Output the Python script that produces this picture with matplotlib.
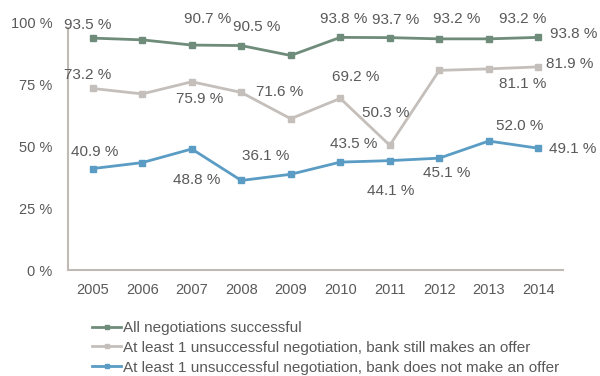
import matplotlib.pyplot as plt

plt.rcParams['font.family'] = ['Liberation Sans', 'DejaVu Sans']

years = ['2005', '2006', '2007', '2008', '2009', '2010', '2011', '2012', '2013', '2014']
all_success = [93.5, 92.8, 90.7, 90.5, 86.5, 93.8, 93.7, 93.2, 93.2, 93.8]
offer_still = [73.2, 71.0, 75.9, 71.6, 61.0, 69.2, 50.3, 80.5, 81.1, 81.9]
no_offer = [40.9, 43.3, 48.8, 36.1, 38.6, 43.5, 44.1, 45.1, 52.0, 49.1]

names = ['All negotiations successful',
         'At least 1 unsuccessful negotiation, bank still makes an offer',
         'At least 1 unsuccessful negotiation, bank does not make an offer']
colors = ['#6f8c7b', '#c4bfba', '#5a9cc4']

# which years get a value label, and where (pixel offset from the point)
green_lbl = {0: (-5, 13), 2: (16, 26), 3: (15, 19), 5: (3, 18), 6: (6, 18),
             7: (17, 20), 8: (34, 20), 9: (35, 3)}
gray_lbl = {0: (-5, 13), 2: (8, -17), 3: (38, 0), 5: (15, 21), 6: (-4, 32),
            8: (34, -15), 9: (31, 3)}
blue_lbl = {0: (2, 17), 2: (5, -31), 3: (24, 24), 5: (13, 18), 6: (1, -30),
            7: (7, -15), 8: (31, 15), 9: (34, -1)}

text_col = '#595959'
fig = plt.figure(figsize=(6, 3.76), dpi=100)
ax = fig.add_axes([68/600, 1-270/376, 495/600, 248/376])

x = range(len(years))
for vals, col, name, lbl in zip([all_success, offer_still, no_offer], colors, names,
                                [green_lbl, gray_lbl, blue_lbl]):
    ax.plot(x, vals, color=col, lw=2, marker='s', ms=4, label=name)
    for i, (dx, dy) in lbl.items():
        ax.annotate('%.1f %%' % vals[i], (i, vals[i]), xytext=(dx, dy),
                    textcoords='offset pixels', ha='center', va='center',
                    fontsize=11, color=text_col)

ax.set_xlim(-0.5, len(years) - 0.5)
ax.set_ylim(0, 100)
ax.set_xticks(list(x))
ax.set_xticklabels(years)
ax.set_yticks([0, 25, 50, 75, 100])
ax.set_yticklabels(['0 %', '25 %', '50 %', '75 %', '100 %'])
ax.tick_params(length=0, labelsize=10.5, labelcolor=text_col)
ax.tick_params(axis='y', pad=11)
ax.tick_params(axis='x', pad=9)
for s in ['top', 'right']:
    ax.spines[s].set_visible(False)
for s in ['left', 'bottom']:
    ax.spines[s].set_color('#bfbab5')
    ax.spines[s].set_linewidth(1.5)
ax.spines['left'].set_bounds(0, 97.5)

fig.legend(loc='upper left', bbox_to_anchor=(92/600, 1-321/376), frameon=False,
           fontsize=11, labelcolor=text_col, handlelength=1.9, handletextpad=0.15,
           labelspacing=0.38, borderpad=0, borderaxespad=0, markerscale=0.7)

fig.savefig('out.png', dpi=100)
